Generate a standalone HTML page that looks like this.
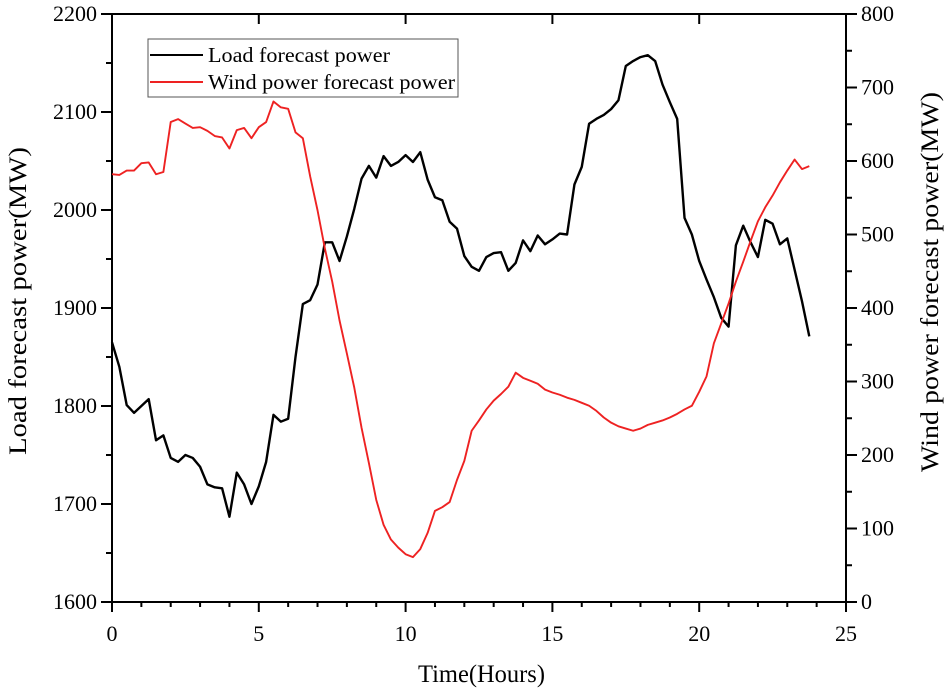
<!DOCTYPE html>
<html><head><meta charset="utf-8"><style>
html,body{margin:0;padding:0;background:#fff;}
svg text{font-family:"Liberation Serif",serif;fill:#000;}
</style></head><body>
<svg id="chart" width="950" height="692" viewBox="0 0 950 692" xmlns="http://www.w3.org/2000/svg">
<g id="axes"></g><g id="series"></g><g id="legend"></g>
</svg>
<script>
const hours = Array.from({length:96},(_,i)=>i*0.25);
const loadMW = [1865,1840,1801,1793,1800,1807,1765,1770,1747,1743,1750,1747,1738,1720,1717,1716,1687,1732,1720,1700,1718,1743,1791,1784,1787,1850,1904,1908,1924,1967,1967,1948,1973,2001,2032,2045,2033,2055,2045,2049,2056,2049,2059,2031,2013,2010,1988,1981,1953,1942,1938,1952,1956,1957,1938,1946,1969,1958,1974,1965,1970,1976,1975,2026,2044,2088,2093,2097,2103,2112,2147,2152,2156,2158,2152,2128,2110,2093,1992,1975,1948,1929,1911,1890,1881,1964,1984,1967,1952,1990,1986,1965,1971,1939,1907,1871];
const windMW = [582,581,587,587,597,598,582,585,653,657,651,645,646,641,634,632,617,642,645,631,646,653,681,673,671,639,631,579,533,481,436,383,338,292,237,189,139,105,85,74,65,61,72,94,124,129,136,166,192,233,247,262,274,283,293,312,305,301,297,289,285,282,278,275,271,267,260,251,244,239,236,233,236,241,244,247,251,256,262,267,286,307,352,379,406,436,463,491,518,537,553,571,587,602,589,593];
const xTicks = [0,5,10,15,20,25];
const yLeftTicks = [1600,1700,1800,1900,2000,2100,2200];
const yRightTicks = [0,100,200,300,400,500,600,700,800];

const NS="http://www.w3.org/2000/svg";
const L=112,R=846,T=14,B=602;
const xS=v=>L+(v/25)*(R-L);
const yL=v=>B-(v-1600)/600*(B-T);
const yR=v=>B-v/800*(B-T);
function mk(tag,attrs,parent,text){const e=document.createElementNS(NS,tag);for(const k in attrs)e.setAttribute(k,attrs[k]);if(text!==undefined)e.textContent=text;parent.appendChild(e);return e;}
const axes=document.getElementById('axes'),series=document.getElementById('series'),legend=document.getElementById('legend');

const frame=mk('rect',{x:L,y:T,width:R-L,height:B-T,fill:'none',stroke:'#000','stroke-width':2},axes);



for(let h=0;h<=25;h++){
  const major=h%5===0;const x=xS(h);
  const t=mk('line',{x1:x,x2:x,y1:B,y2:B+(major?10:5),stroke:'#000','stroke-width':2},axes);
  
  
  if(major){const tt=mk('line',{x1:x,x2:x,y1:T,y2:T+10,stroke:'#000','stroke-width':2},axes);
    
    }
}
xTicks.forEach(v=>{const t=mk('text',{x:xS(v),y:B+39,'font-size':22,'text-anchor':'middle'},axes,String(v));
  
  });
for(let v=1600;v<=2200;v+=50){const major=v%100===0;const y=yL(v);
  const t=mk('line',{x1:L-(major?11:6),x2:L,y1:y,y2:y,stroke:'#000','stroke-width':2},axes);
  
  }
yLeftTicks.forEach(v=>{const t=mk('text',{x:L-15,y:yL(v)+7,'font-size':22,'text-anchor':'end'},axes,String(v));
  
  });
for(let v=0;v<=800;v+=50){const major=v%100===0;const y=yR(v);
  const t=mk('line',{x1:R,x2:R+(major?11:6),y1:y,y2:y,stroke:'#000','stroke-width':2},axes);
  
  }
yRightTicks.forEach(v=>{const t=mk('text',{x:R+15,y:yR(v)+7,'font-size':22,'text-anchor':'start'},axes,String(v));
  
  });

const xt=mk('text',{x:418,y:682,'font-size':25,textLength:127,lengthAdjust:'spacingAndGlyphs'},axes,'Time(Hours)');


const ylt=mk('text',{x:0,y:0,'font-size':25,textLength:308,lengthAdjust:'spacingAndGlyphs',transform:'translate(26,455) rotate(-90)'},axes,'Load forecast power(MW)');


const yrt=mk('text',{x:0,y:0,'font-size':25,textLength:380,lengthAdjust:'spacingAndGlyphs',transform:'translate(938,472) rotate(-90)'},axes,'Wind power forecast power(MW)');



const lp=mk('polyline',{points:loadMW.map((v,i)=>xS(hours[i])+','+yL(v)).join(' '),fill:'none',stroke:'#000','stroke-width':2.4,'stroke-linejoin':'round'},series);


const wp=mk('polyline',{points:windMW.map((v,i)=>xS(hours[i])+','+yR(v)).join(' '),fill:'none',stroke:'#ee2222','stroke-width':1.9,'stroke-linejoin':'round'},series);



const box=mk('rect',{x:148,y:39,width:310,height:58,fill:'#fff',stroke:'#555','stroke-width':1},legend);


const l1=mk('line',{x1:150,x2:203,y1:55,y2:55,stroke:'#000','stroke-width':2},legend);


const t1=mk('text',{x:208,y:62,'font-size':21,textLength:182,lengthAdjust:'spacingAndGlyphs'},legend,'Load forecast power');


const l2=mk('line',{x1:150,x2:203,y1:82,y2:82,stroke:'#ee2222','stroke-width':2},legend);


const t2=mk('text',{x:208,y:89,'font-size':21,textLength:247,lengthAdjust:'spacingAndGlyphs'},legend,'Wind power forecast power');


</script>
</body></html>
